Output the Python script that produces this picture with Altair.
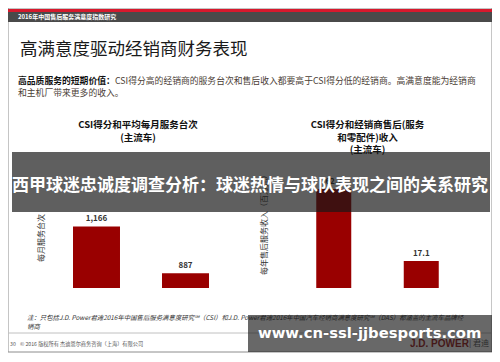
import altair as alt
import pandas as pd

CJK = "Noto Sans CJK SC"

# ---- data ----
categories = ["CSI得分高的经销商", "CSI得分低的经销商"]
service_visits = [1166, 887]          # 平均每月服务台次
aftersales_revenue = [62.7, 17.1]     # 每年售后服务收入（百万元）

left_df = pd.DataFrame({"cat": categories, "val": service_visits})
right_df = pd.DataFrame({"cat": categories, "val": aftersales_revenue})
one = pd.DataFrame({"k": [0]})

BAR = "#990000"


def rect(x1, x2, y1, y2, color, opacity=1.0, **kw):
    return alt.Chart(one).mark_rect(color=color, opacity=opacity, **kw).encode(
        x=alt.value(x1), x2=alt.value(x2), y=alt.value(y1), y2=alt.value(y2))


def txt(s, x, y, size, color="#222222", weight="normal", align="left",
        font=CJK, angle=0, style="normal"):
    return alt.Chart(one).mark_text(
        text=s, fontSize=size, color=color, fontWeight=weight, align=align,
        baseline="middle", font=font, angle=angle, fontStyle=style
    ).encode(x=alt.value(x), y=alt.value(y))


def bar_panel(df, xr, pin, pout, ydom, yr, fmt, base):
    xs = alt.Scale(domain=categories, range=xr, paddingInner=pin, paddingOuter=pout)
    ys = alt.Scale(domain=ydom, range=yr, clamp=True)
    bars = alt.Chart(df).mark_bar(color=BAR).encode(
        x=alt.X("cat:N", scale=xs, sort=None, title=None,
                axis=alt.Axis(orient="bottom", labelAngle=0, labelFont=CJK,
                              labelFontSize=7.5, labelColor="#222222",
                              labelPadding=4, tickBand="extent", tickSize=3,
                              tickColor="#aaaaaa", domainColor="#aaaaaa")),
        y=alt.Y("val:Q", scale=ys, axis=None),
        y2=alt.datum(base),
    )
    labels = alt.Chart(df).mark_text(
        fontSize=8, fontWeight="bold", color="#333333", dy=-7, font=CJK
    ).encode(
        x=alt.X("cat:N", scale=xs, sort=None, axis=None),
        y=alt.Y("val:Q", scale=ys, axis=None),
        text=alt.Text("val:Q", format=fmt),
    )
    return bars, labels


lb, ll = bar_panel(left_df, [44, 222], 0.472, 0.236, [800, 1200], [280, 212.7], ",", 800)
rb, rl = bar_panel(right_df, [282, 457], 0.6, 0.3, [0, 70], [280, 169.5], ".1f", 0)

layers = [
    # slide frame and header
    rect(0, 484, 0, 344, "white", stroke="#8c8c8c", strokeWidth=1),
    rect(0, 484, 1, 4, "#d7192d"),
    rect(0, 484, 4, 14, "#4a4a4a"),
    txt("2016年中国售后服务满意度指数研究", 10, 9, 6, color="white", weight="bold"),
    txt("高满意度驱动经销商财务表现", 12, 42, 17.5, color="#1a1a1a"),
    txt("高品质服务的短期价值：", 10, 72.5, 8.8, color="#111111", weight="bold"),
    txt("CSI得分高的经销商的服务台次和售后收入都要高于CSI得分低的经销商。高满意度能为经销商",
        107, 72.5, 8.8, color="#4b4036"),
    txt("和主机厂带来更多的收入。", 10, 84.5, 8.8, color="#4b4036"),
    # panel titles
    txt("CSI得分和平均每月服务台次", 130, 117, 9.5, color="#111111", weight="bold", align="center"),
    txt("(主流车)", 130, 129.5, 9.5, color="#111111", weight="bold", align="center"),
    txt("CSI得分和经销商售后(服务", 359.5, 117, 9.5, color="#111111", weight="bold", align="center"),
    txt("和零配件)收入", 359.5, 129.5, 9.5, color="#111111", weight="bold", align="center"),
    txt("(主流车)", 359.5, 142, 9.5, color="#111111", weight="bold", align="center"),
    # y titles
    txt("每月服务台次", 34, 230, 8, color="#333333", align="center", angle=270),
    txt("每年售后服务收入（百万元）", 257, 267, 8, color="#333333", align="left", angle=270),
    # bars
    lb, ll, rb, rl,
    # overlay banner
    rect(4, 482, 144, 204, "#171717", opacity=0.69),
    txt("西甲球迷忠诚度调查分析：球迷热情与球队表现之间的关系研究", 242, 178, 17,
        color="white", weight="bold", align="center"),
    # footnote and footer
    txt("注：只包括J.D. Power君迪2016年中国售后服务满意度研究℠（CSI）和J.D. Power君迪2016年中国汽车经销商满意度研究℠（DAS）都涵盖的主流车品牌经",
        19, 310.3, 6.4, color="#333333", style="italic"),
    txt("销商", 19, 318.7, 6.4, color="#333333", style="italic"),
    alt.Chart(one).mark_rule(color="#c0c0c0", strokeWidth=1).encode(
        x=alt.value(0), x2=alt.value(484), y=alt.value(325)),
    txt("30", 2, 336, 5.2, color="#555555"),
    txt("© 2016 版权所有 杰迪恩尔商务咨询（上海）有限公司", 12, 336, 5.2, color="#555555"),
    txt("J.D. POWER", 402, 336, 10, color="#9b1b1b", weight="bold", font="Liberation Sans"),
    txt("| 君迪", 461, 336, 8, color="#555555"),
    # watermark
    rect(240, 484, 307, 344, "#171717", opacity=0.65),
    txt("www.cn-ssl-jjbesports.com", 250, 325.5, 14.8, color="white", weight="bold",
        font="DejaVu Sans"),
]

chart = alt.layer(*layers).resolve_scale(
    x="independent", y="independent"
).properties(
    width=484, height=280,
    padding={"left": 0, "top": 0, "right": 0, "bottom": 66},
    autosize="none", background="white",
).configure_view(stroke=None)

chart.save("out.html", embed_options={"renderer": "svg", "actions": False})
